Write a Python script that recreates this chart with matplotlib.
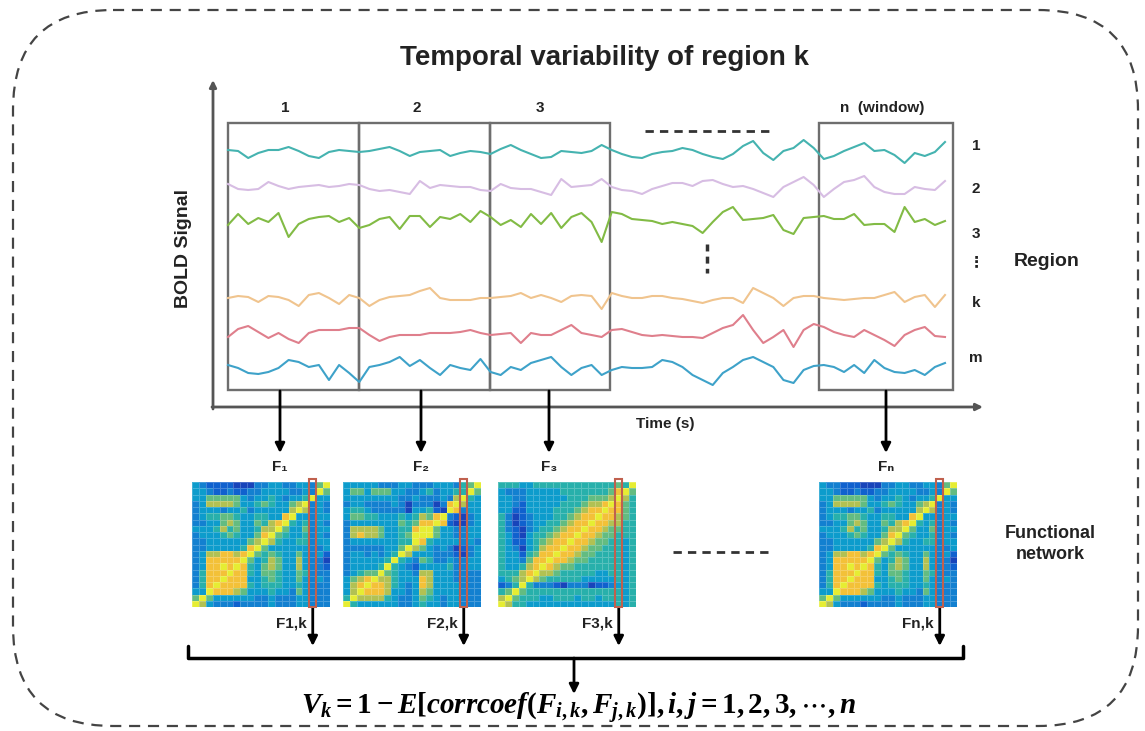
import numpy as np
import matplotlib
matplotlib.use("Agg")
import matplotlib.pyplot as plt
from matplotlib.patches import FancyBboxPatch, Rectangle
from matplotlib.colors import LinearSegmentedColormap

plt.rcParams['font.family'] = ['Liberation Sans', 'DejaVu Sans']
plt.rcParams['mathtext.fontset'] = 'custom'
plt.rcParams['mathtext.rm'] = 'Liberation Serif:bold'
plt.rcParams['mathtext.it'] = 'Liberation Serif:bold:italic'
plt.rcParams['mathtext.bf'] = 'Liberation Serif:bold'

# ---- BOLD signals (amplitude, up = positive) ----
sig_region1 = [1, 0, -7, -2, 1, 1, 4, 0, -5, -7, -1, 1, 0, -1, 0, 2, 4, 0, -5, -1,
               0, 1, -5, -2, 0, -1, -3, 2, 6, 1, -3, -7, -6, 0, -1, -2, 0, 6, 1, -3,
               -6, -7, -3, -1, 0, 3, 1, -3, -6, -8, -3, 5, 10, -2, -9, 0, 3, 11, 3, -8,
               -5, 0, 4, 8, 0, 1, -4, -12, -2, -5, -1, 9]
sig_region2 = [3, -2, -3, -2, 5, 1, -2, 0, 1, 2, 0, 1, 3, 2, -2, -4, -3, -5, -7, 6,
               -1, 2, 1, 0, 0, -3, -4, 3, -1, -2, -2, -5, -8, 8, 0, 1, 2, 8, 0, -3,
               -4, -7, -2, 1, 4, 4, 1, 6, 7, 3, 0, 1, -2, -6, -10, 0, 5, 10, 2, -10,
               -2, 5, 7, 11, 0, -5, -7, -7, 0, -2, -3, 6]
sig_region3 = [-3, 8, -2, 4, 0, 9, -15, -2, 3, 5, 6, 0, 4, -6, -3, 3, 5, -7, 6, 6,
               -5, 5, 3, 8, 0, 11, 5, -3, 2, -5, 8, -2, 9, -6, 5, 9, 0, -20, 10, 8,
               3, 2, 1, -2, 0, -2, -4, -11, 0, 10, 15, 2, 3, 4, 7, -8, -12, 4, 5, 6,
               3, 3, 8, -3, -2, -2, -10, 15, 0, 3, -3, 1]
sig_region_k = [0, 2, 1, -4, 2, 1, -2, -8, 3, 5, 0, -6, 3, 0, -8, -2, 1, 2, 3, 7,
                10, 0, -2, -2, -2, 0, 0, 1, 2, 5, 0, 3, 0, -4, 2, 3, 2, -11, 5, 2,
                0, 0, 2, 2, 0, -1, -3, -5, -2, 0, 0, -5, 10, 5, 0, -8, 0, 2, 2, 0,
                -1, -2, -1, 0, 0, 3, 6, -4, 1, 3, -9, 3]
sig_region5 = [-2, 6, 9, 3, -3, 2, -4, -8, 2, 5, 5, 5, 7, 7, 0, -6, -2, 0, 0, 0,
               2, 2, 2, 3, 5, 2, 0, 1, 2, -8, 2, 0, 0, 5, 10, 2, 0, -2, 5, 6,
               3, 0, -1, 0, -1, -2, -2, -3, 2, 7, 10, 20, 5, -8, -2, 5, -12, 5, 11, 8,
               3, 0, -2, 5, 0, -5, -11, 0, 5, 8, -1, -2]
sig_region_m = [5, 2, -3, -4, -2, 2, 10, 8, 3, 5, -10, 5, -3, -12, 3, 5, 8, 13, 4, 10,
                2, -5, 5, 2, 0, 11, -2, -5, 3, 0, 7, 10, 13, 3, -5, 2, 5, -5, 0, 3,
                2, 2, 3, 10, 8, 3, -5, -10, -15, -3, 3, 10, 13, 8, 3, -10, -13, 0, 4, 5,
                3, -2, 5, -3, 10, 2, -2, -3, 0, -5, 3, 7]
signals = [sig_region1, sig_region2, sig_region3, sig_region_k, sig_region5, sig_region_m]
region_labels = ["1", "2", "3", "\u22ee", "k", "m"]
window_labels = ["1", "2", "3", "n  (window)"]
f_labels = ["F\u2081", "F\u2082", "F\u2083", "F\u2099"]
fk_labels = ["F1,k", "F2,k", "F3,k", "Fn,k"]

# ---- functional network matrices (levels 0..9) ----
F1 = ["43222211133443344369", "44322322334444334396", "44666664344543445944",
      "34777764456544679343", "34443445344444797343", "34556654455448944344",
      "33446764465789545343", "44457564457796446344", "34445654468965445343",
      "33444444679754455344", "33444445896444444334", "34778878965654464342",
      "34888889645764474331", "34889898546764474332", "35888988546654465333",
      "35889888445654464343", "35898888545554454333", "44988876444544364333",
      "69644444433433344333", "97433323333433344333"]
F2 = ["44444333443334443569", "46646664433453445596", "44444444334333437954",
      "34433334313331389744", "45543333314452198344", "46655444545768932134",
      "34444444656889821134", "37777644558996443344", "37877644569996443344",
      "34444444559854444343", "33333344697643431234", "34434345974443332134",
      "34444459543653343344", "34444595432444453344", "34566965443774443333",
      "46789775444874443333", "47898875434874444333", "47988874434764444333",
      "59777754334654344333", "95444444334544344333"]
F3 = ["55544555555555555659", "43334444455555556896", "44334444445556667975",
      "44324444455567789865", "44224444555678898865", "53123444556788988765",
      "53123445567889887755", "53213455678898876655", "54214556788988766555",
      "54224567889887665545", "54314578898876655545", "54425688988766555545",
      "54436889887665555545", "54457898766555555545", "55578977655555445545",
      "45679765555544444545", "23595333213331223445", "56965555555555555545",
      "79655544555455455545", "97554444444444444545"]
FN = ["43322211133443344369", "44322322334444334396", "44666664344543445944",
      "34777764456544679343", "34443445344444797343", "34556654455448944344",
      "33446764465789545343", "44457564457796446344", "34445654468965445343",
      "33444444679754455344", "33444445896444444334", "34778878965654464342",
      "34888889645764474331", "34889898546764474332", "35888988546654465333",
      "35889888445654464343", "35898888545554454333", "44988876444544364333",
      "69644444433433344333", "97433323333433344333"]
matrices = [F1, F2, F3, FN]

# ---- layout (pixels) ----
W, H = 1145, 731
sig_x0, sig_x1 = 228, 945
baselines = [151, 187, 222, 298, 335, 370]
sig_colors = ["#45b3b0", "#d7bde3", "#82bb45", "#f0c48e", "#df7f8c", "#3ea2c9"]
label_y = [146, 189, 234, 262, 303, 358]
win_x = [(228, 359), (359, 490), (490, 610), (819, 953)]
win_lab_x = [285, 417, 540, 882]
arrow_x = [280, 421, 549, 886]
mat_x = [192, 343, 498, 819]
mat_y0, mat_y1 = 482, 607
mat_w = 138
hl_col = 17

parula = LinearSegmentedColormap.from_list("parula", [
    (0.00, (0.21, 0.17, 0.53)), (0.15, (0.05, 0.30, 0.80)),
    (0.30, (0.08, 0.47, 0.82)), (0.45, (0.05, 0.62, 0.80)),
    (0.60, (0.20, 0.72, 0.62)), (0.75, (0.62, 0.76, 0.36)),
    (0.88, (0.96, 0.74, 0.22)), (1.00, (0.90, 0.93, 0.20))])

fig = plt.figure(figsize=(W / 100, H / 100), dpi=100)
ax = fig.add_axes([0, 0, 1, 1])
ax.set_xlim(0, W)
ax.set_ylim(H, 0)
ax.axis('off')

txt = "#222222"

# outer dashed rounded frame
ax.add_patch(FancyBboxPatch((13, 10), 1125, 716, boxstyle="round,pad=0,rounding_size=100",
                            fill=False, ec="#444444", lw=1.6, ls=(0, (5, 3.5))))

ax.text(605, 58, "Temporal variability of region k", ha='center', va='center',
        fontsize=20, fontweight='bold', color=txt)

# axes arrows of the signal panel
gray = "#555555"
ax.annotate('', xy=(213, 80), xytext=(213, 409),
            arrowprops=dict(arrowstyle='-|>', color=gray, lw=2, mutation_scale=10, shrinkA=0, shrinkB=0))
ax.annotate('', xy=(983, 407), xytext=(212, 407),
            arrowprops=dict(arrowstyle='-|>', color=gray, lw=2, mutation_scale=10, shrinkA=0, shrinkB=0))
ax.text(183, 248, "BOLD Signal", rotation=90, ha='center', va='center',
        fontsize=14, fontweight='bold', color=txt)
ax.text(665, 424, "Time (s)", ha='center', va='center', fontsize=11, fontweight='bold', color=txt)

# signals
t = np.arange(len(sig_region1))
xs = sig_x0 + t * (sig_x1 - sig_x0) / (len(t) - 1)
for vals, base, col in zip(signals, baselines, sig_colors):
    ax.plot(xs, base - np.array(vals), color=col, lw=1.5, solid_joinstyle='round')

# window boxes
for (a, b), lab, lx in zip(win_x, window_labels, win_lab_x):
    ax.add_patch(Rectangle((a, 123), b - a, 267, fill=False, ec="#6e6e6e", lw=1.7))
    ax.text(lx, 108, lab, ha='center', va='center', fontsize=11, fontweight='bold', color=txt)

ax.plot([645, 775], [131, 131], color="#333333", lw=2, ls=(0, (3, 2.2)))
ax.plot([707, 707], [244, 273], color="#333333", lw=2.5, ls=(0, (2, 1.5)))

for lab, ly in zip(region_labels, label_y):
    ax.text(976, ly, lab, ha='center', va='center', fontsize=11, fontweight='bold', color=txt)
ax.text(1047, 262, "Region", ha='center', va='center', fontsize=14, fontweight='bold', color=txt)


def down_arrow(x, y0, y1):
    ax.annotate('', xy=(x, y1), xytext=(x, y0),
                arrowprops=dict(arrowstyle='-|>', color='black', lw=2,
                                mutation_scale=14, shrinkA=0, shrinkB=0))


for x in arrow_x:
    down_arrow(x, 391, 453)

# matrices
for M, mx, fl, fkl, axx in zip(matrices, mat_x, f_labels, fk_labels, arrow_x):
    vals = np.array([[int(c) for c in row] for row in M])
    n = vals.shape[0]
    max_ = fig.add_axes([mx / W, 1 - mat_y1 / H, mat_w / W, (mat_y1 - mat_y0) / H])
    max_.pcolormesh(vals, cmap=parula, vmin=0, vmax=9,
                    edgecolors=(1, 1, 1, 0.22), linewidth=0.5)
    max_.set_xlim(0, n)
    max_.set_ylim(n, 0)
    max_.axis('off')
    max_.add_patch(Rectangle((hl_col, -0.5), 1, n + 0.5, fill=False,
                             ec="#c0604e", lw=1.5, clip_on=False))
    ax.text(axx, 467, fl, ha='center', va='center', fontsize=11, fontweight='bold', color=txt)
    col_x = mx + (hl_col + 0.5) / n * mat_w
    down_arrow(col_x, mat_y1, 646)
    ax.text(col_x - 6, 623, fkl, ha='right', va='center', fontsize=11, fontweight='bold', color=txt)

ax.plot([673, 773], [552, 552], color="#333333", lw=2, ls=(0, (3, 2.2)))
ax.text(1050, 544, "Functional\nnetwork", ha='center', va='center', fontsize=13,
        fontweight='bold', color=txt, linespacing=1.3)

# brace and result
ax.plot([188, 188, 963, 963], [646, 658, 658, 646], color='black', lw=2.5,
        solid_joinstyle='round', solid_capstyle='round')
down_arrow(574, 658, 694)
ax.text(579, 709, r"$V_k = 1 - E[corrcoef(F_{i,k}, F_{j,k})], i, j = 1, 2, 3, \cdots, n$",
        ha='center', va='center', fontsize=21, color='black')

fig.savefig("out.png", dpi=100)
